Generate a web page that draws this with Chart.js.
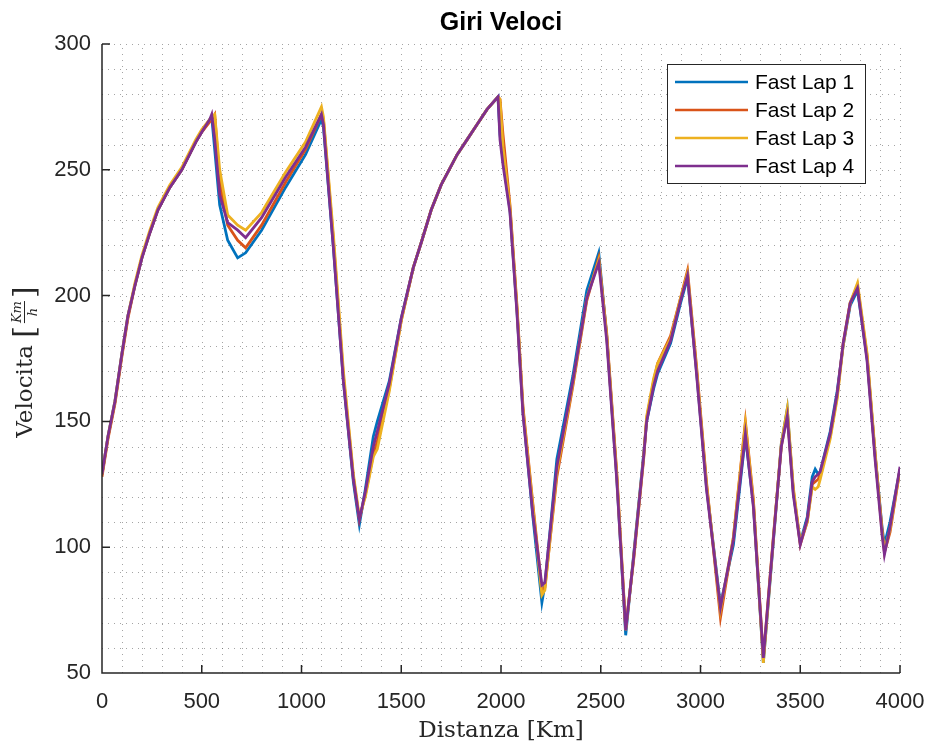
<!DOCTYPE html>
<html>
<head>
<meta charset="utf-8">
<title>Giri Veloci</title>
<script src="https://cdn.jsdelivr.net/npm/chart.js@4.4.1/dist/chart.umd.min.js"></script>
<style>
  html, body { margin: 0; padding: 0; background: #fff; }
  #wrap { width: 932px; height: 749px; }
</style>
</head>
<body>
<div id="wrap"><canvas id="lapChart" width="932" height="749"></canvas></div>
<script>
// distanza percorsa [Km] e velocita dei quattro giri veloci
var distanza = [0, 30, 65, 100, 130, 165, 200, 240, 280, 340, 400, 470, 500, 540, 550, 565, 590, 630, 680, 720,
  800, 920, 1020, 1100, 1110, 1160, 1210, 1260, 1290, 1320, 1360, 1380, 1440, 1500, 1560, 1600, 1650, 1700, 1780, 1830,
  1880, 1930, 1985, 1995, 2010, 2045, 2080, 2110, 2160, 2205, 2220, 2280, 2360, 2430, 2490, 2530, 2580, 2625, 2665, 2715,
  2730, 2765, 2785, 2850, 2900, 2935, 2980, 3030, 3100, 3165, 3225, 3265, 3315, 3365, 3405, 3435, 3465, 3500, 3535, 3560,
  3575, 3590, 3600, 3650, 3685, 3715, 3750, 3787, 3835, 3875, 3910, 3922, 3950, 4000];

var lap1 = [129, 144, 158, 177, 192, 204, 215, 225, 234, 243, 250, 261, 265, 270, 271, 258, 236, 222, 215, 217,
  226, 243, 256, 270, 267, 219, 166, 126, 109, 123, 144, 150, 166, 191, 211, 221, 234, 244, 256, 262,
  268, 274, 279, 264, 254, 234, 194, 154, 112, 78, 85, 135, 168, 202, 217, 184, 128, 65, 97, 137,
  150, 163, 169, 181, 197, 207, 170, 124, 77, 101, 144, 117, 54, 102, 141, 155, 122, 102, 112, 128,
  131, 129, 130, 146, 162, 180, 196, 202, 175, 137, 108, 101, 110, 131];

var lap2 = [128, 143, 157, 176, 191, 204, 215, 225, 234, 243, 250, 261, 265, 269, 270, 272, 245, 228, 222, 219,
  228, 245, 258, 272, 270, 222, 168, 128, 111, 121, 137, 142, 163, 190, 211, 221, 234, 244, 256, 262,
  268, 274, 279, 278, 264, 236, 196, 156, 117, 83, 84, 128, 164, 198, 215, 185, 130, 68, 95, 135,
  151, 166, 173, 184, 199, 210, 172, 126, 72, 104, 150, 119, 56, 104, 140, 153, 123, 101, 110, 125,
  126, 127, 129, 144, 160, 181, 197, 204, 176, 137, 107, 98, 106, 131];

var lap3 = [129, 144, 158, 177, 192, 205, 216, 226, 235, 244, 251, 262, 266, 270, 271, 272, 250, 232, 228, 226,
  233, 249, 261, 275, 271, 224, 170, 129, 112, 120, 136, 139, 162, 190, 211, 221, 234, 244, 256, 262,
  268, 274, 279, 278, 259, 235, 195, 155, 116, 81, 83, 130, 165, 199, 214, 184, 129, 67, 96, 136,
  152, 167, 173, 183, 199, 209, 171, 125, 75, 104, 149, 118, 54, 103, 141, 155, 124, 102, 110, 124,
  123, 124, 127, 143, 159, 180, 197, 205, 177, 138, 106, 99, 107, 131];

var lap4 = [129, 144, 158, 177, 192, 204, 215, 225, 234, 243, 250, 261, 265, 270, 272, 262, 240, 229, 226, 223,
  231, 247, 259, 272, 268, 219, 166, 127, 111, 122, 140, 146, 165, 191, 211, 221, 234, 244, 256, 262,
  268, 274, 279, 262, 252, 233, 193, 153, 113, 85, 86, 132, 166, 199, 213, 182, 127, 67, 96, 136,
  150, 164, 170, 182, 198, 208, 169, 123, 76, 103, 145, 116, 56, 103, 140, 152, 121, 101, 111, 126,
  128, 129, 130, 145, 161, 181, 197, 203, 174, 135, 105, 97, 108, 132];

var lapLabels = ['Fast Lap 1', 'Fast Lap 2', 'Fast Lap 3', 'Fast Lap 4'];
var lapColors = ['#0072BD', '#D95319', '#EDB120', '#7E2F8E'];
var xTicks = [0, 500, 1000, 1500, 2000, 2500, 3000, 3500, 4000];
var yTicks = [50, 100, 150, 200, 250, 300];

var axisColor = '#262626';
var sansFont = '"Liberation Sans", Arial, Helvetica, sans-serif';
var serifFont = '"DejaVu Serif", "Liberation Serif", serif';

function toPoints(ys) {
  return ys.map(function (y, i) { return { x: distanza[i], y: y }; });
}

// griglia punteggiata, assi e tacche rivolte verso l'interno
var matlabAxes = {
  id: 'matlabAxes',
  beforeDatasetsDraw: function (chart) {
    var ctx = chart.ctx;
    var a = chart.chartArea;
    var xs = chart.scales.x;
    var ys = chart.scales.y;
    ctx.save();
    ctx.strokeStyle = 'rgba(90,90,90,0.55)';
    ctx.lineWidth = 1;
    ctx.setLineDash([1, 5]);
    var v, p;
    for (v = 100; v <= 4000; v += 100) {
      p = Math.round(xs.getPixelForValue(v)) + 0.5;
      ctx.beginPath();
      ctx.moveTo(p, a.bottom);
      ctx.lineTo(p, a.top);
      ctx.stroke();
    }
    for (v = 60; v <= 300; v += 10) {
      p = Math.round(ys.getPixelForValue(v)) + 0.5;
      ctx.beginPath();
      ctx.moveTo(a.left, p);
      ctx.lineTo(a.right, p);
      ctx.stroke();
    }
    ctx.restore();
  },
  afterDatasetsDraw: function (chart) {
    var ctx = chart.ctx;
    var a = chart.chartArea;
    var xs = chart.scales.x;
    var ys = chart.scales.y;
    ctx.save();
    ctx.strokeStyle = axisColor;
    ctx.lineWidth = 1.5;
    ctx.beginPath();
    ctx.moveTo(a.left, a.top);
    ctx.lineTo(a.left, a.bottom);
    ctx.lineTo(a.right, a.bottom);
    xTicks.forEach(function (t) {
      var px = xs.getPixelForValue(t);
      ctx.moveTo(px, a.bottom);
      ctx.lineTo(px, a.bottom - 8);
    });
    yTicks.forEach(function (t) {
      var py = ys.getPixelForValue(t);
      ctx.moveTo(a.left, py);
      ctx.lineTo(a.left + 8, py);
    });
    ctx.stroke();
    ctx.restore();
  },
  afterDraw: function (chart) {
    var ctx = chart.ctx;
    var a = chart.chartArea;
    var cx = (a.left + a.right) / 2;
    ctx.save();

    // titolo
    ctx.fillStyle = '#000';
    ctx.font = 'bold 25px ' + sansFont;
    ctx.textAlign = 'center';
    ctx.textBaseline = 'middle';
    ctx.fillText('Giri Veloci', cx, 23);

    // etichetta asse x
    ctx.fillStyle = axisColor;
    ctx.font = '23px ' + serifFont;
    ctx.textBaseline = 'alphabetic';
    ctx.fillText('Distanza [Km]', cx, 737);

    // etichetta asse y con la frazione Km/h
    ctx.translate(32, 362);
    ctx.rotate(-Math.PI / 2);
    ctx.textAlign = 'left';
    ctx.font = '23px ' + serifFont;
    var w1 = ctx.measureText('Velocita ').width;
    var fracFont = 'italic 13px ' + serifFont;
    ctx.font = fracFont;
    var wNum = ctx.measureText('Km').width;
    ctx.font = '30px ' + serifFont;
    var wBr = ctx.measureText('[').width;
    var total = w1 + wBr * 2 + wNum + 6;
    var x0 = -total / 2;
    ctx.font = '23px ' + serifFont;
    ctx.fillText('Velocita', x0, 0);
    ctx.font = '30px ' + serifFont;
    ctx.fillText('[', x0 + w1, 2);
    var fx = x0 + w1 + wBr + 3;
    ctx.font = fracFont;
    ctx.textAlign = 'center';
    ctx.fillText('Km', fx + wNum / 2, -11);
    ctx.fillText('h', fx + wNum / 2, 5);
    ctx.strokeStyle = axisColor;
    ctx.lineWidth = 1;
    ctx.beginPath();
    ctx.moveTo(fx, -7.5);
    ctx.lineTo(fx + wNum, -7.5);
    ctx.stroke();
    ctx.textAlign = 'left';
    ctx.font = '30px ' + serifFont;
    ctx.fillText(']', fx + wNum + 3, 2);
    ctx.setTransform(1, 0, 0, 1, 0, 0);

    // legenda
    var lx = 667.5, ly = 64.5, lw = 198, lh = 119;
    ctx.fillStyle = '#fff';
    ctx.fillRect(lx, ly, lw, lh);
    ctx.strokeStyle = '#262626';
    ctx.lineWidth = 1;
    ctx.strokeRect(lx, ly, lw, lh);
    ctx.font = '21px ' + sansFont;
    ctx.textBaseline = 'middle';
    chart.data.datasets.forEach(function (ds, i) {
      var ry = 82 + i * 28;
      ctx.strokeStyle = ds.borderColor;
      ctx.lineWidth = 2.5;
      ctx.beginPath();
      ctx.moveTo(675, ry);
      ctx.lineTo(748, ry);
      ctx.stroke();
      ctx.fillStyle = '#000';
      ctx.fillText(ds.label, 755, ry + 1);
    });
    ctx.restore();
  }
};

var laps = [lap1, lap2, lap3, lap4];

new Chart(document.getElementById('lapChart'), {
  type: 'line',
  data: {
    datasets: laps.map(function (ys, i) {
      return {
        label: lapLabels[i],
        data: toPoints(ys),
        borderColor: lapColors[i],
        borderWidth: 2.8,
        pointRadius: 0,
        tension: 0,
        fill: false,
        order: laps.length - i
      };
    })
  },
  options: {
    responsive: false,
    animation: false,
    layout: { padding: { left: 0, right: 32, top: 44, bottom: 0 } },
    plugins: {
      legend: { display: false },
      title: { display: false },
      tooltip: { enabled: false }
    },
    scales: {
      x: {
        type: 'linear',
        min: 0,
        max: 4000,
        afterFit: function (scale) {
          scale.height = 76;
          scale.paddingLeft = 0;
          scale.paddingRight = 0;
        },
        afterBuildTicks: function (scale) {
          scale.ticks = xTicks.map(function (v) { return { value: v }; });
        },
        grid: { display: false, drawTicks: false },
        border: { display: false },
        ticks: {
          color: axisColor,
          font: { family: sansFont, size: 22 },
          padding: 16,
          maxRotation: 0,
          callback: function (v) { return String(v); }
        }
      },
      y: {
        type: 'linear',
        min: 50,
        max: 300,
        afterFit: function (scale) {
          scale.width = 102;
          scale.paddingTop = 0;
          scale.paddingBottom = 0;
        },
        afterBuildTicks: function (scale) {
          scale.ticks = yTicks.map(function (v) { return { value: v }; });
        },
        grid: { display: false, drawTicks: false },
        border: { display: false },
        ticks: {
          color: axisColor,
          font: { family: sansFont, size: 22 },
          padding: 11,
          callback: function (v) { return String(v); }
        }
      }
    }
  },
  plugins: [matlabAxes]
});
</script>
</body>
</html>
